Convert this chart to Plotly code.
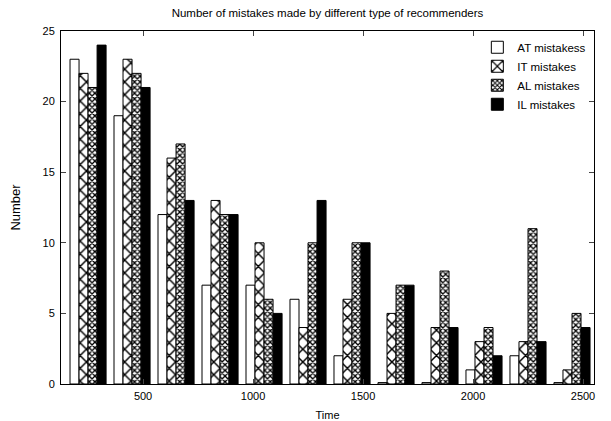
import plotly.graph_objects as go

times = [250, 450, 650, 850, 1050, 1250, 1450, 1650, 1850, 2050, 2250, 2450]
at_mistakes = [23, 19, 12, 7, 7, 6, 2, 0.1, 0.1, 1, 2, 0.1]
it_mistakes = [22, 23, 16, 13, 10, 4, 6, 5, 4, 3, 3, 1]
al_mistakes = [21, 22, 17, 12, 6, 10, 10, 7, 8, 4, 11, 5]
il_mistakes = [24, 21, 13, 12, 5, 13, 10, 7, 4, 2, 3, 4]

series = [
    ("AT mistakess", at_mistakes, dict(color="white")),
    ("IT mistakes", it_mistakes, dict(color="white", pattern=dict(shape="x", size=9, solidity=0.3, fgcolor="black", bgcolor="white"))),
    ("AL mistakes", al_mistakes, dict(color="white", pattern=dict(shape="x", size=4, solidity=0.55, fgcolor="black", bgcolor="white"))),
    ("IL mistakes", il_mistakes, dict(color="black")),
]

# the page body has an 8px margin, so the figure is made 8px smaller
OFF = 8
W, H = 611 - OFF, 421 - OFF

fig = go.Figure()
for name, vals, mk in series:
    mk = dict(mk)
    mk["line"] = dict(color="black", width=1)
    fig.add_trace(go.Bar(x=times, y=vals, name=name, marker=mk,
                         text=[""] * len(vals), textposition="none",
                         hoverinfo="skip"))

font = "Liberation Sans, Arial, Helvetica, sans-serif"
fig.update_layout(
    template="none",
    width=W, height=H,
    margin=dict(l=61 - OFF, r=17, t=31 - OFF, b=37, autoexpand=False),
    paper_bgcolor="white", plot_bgcolor="white",
    barmode="group", bargap=0.18, bargroupgap=0,
    font=dict(family=font, size=11, color="black"),
    title=dict(text="Number of mistakes made by different type of recommenders",
               x=0.5, xref="paper", xanchor="center",
               y=1 - (13 - OFF) / H, yref="container", yanchor="middle",
               font=dict(size=11.5)),
    legend=dict(x=0.995, xanchor="right", y=0.995, yanchor="top",
                bgcolor="rgba(0,0,0,0)", font=dict(size=11.5),
                tracegroupgap=0),
    xaxis=dict(range=[127, 2550], tickvals=[500, 1000, 1500, 2000, 2500],
               ticks="inside", ticklen=5, showline=True, linecolor="black", linewidth=1,
               mirror="ticks", showgrid=False, zeroline=False, automargin=False,
               ticklabelstandoff=2,
               title=dict(text="Time", standoff=10, font=dict(size=11))),
    yaxis=dict(range=[0, 25], tickvals=[0, 5, 10, 15, 20, 25],
               ticks="inside", ticklen=5, showline=True, linecolor="black", linewidth=1,
               mirror="ticks", showgrid=False, zeroline=False, automargin=False,
               ticklabelstandoff=3,
               title=dict(text="Number", standoff=21, font=dict(size=13))),
)

fig.write_html("out.html")
